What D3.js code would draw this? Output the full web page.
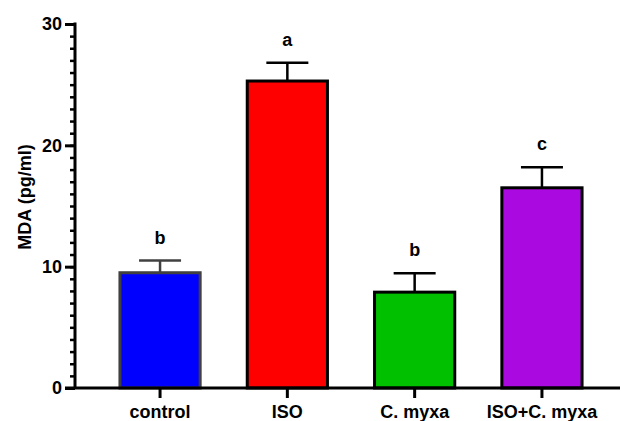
<!DOCTYPE html>
<html><head><meta charset="utf-8">
<script src="https://cdn.jsdelivr.net/npm/d3@7"></script>
<style>body{margin:0;background:#fff}svg{display:block}text{font-family:"Liberation Sans",Arial,sans-serif;font-weight:bold}</style>
</head><body><svg id="c" width="621" height="421"></svg>
<script>
const categories = ["control","ISO","C. myxa","ISO+C. myxa"];
const means = [9.5, 25.3, 7.9, 16.5];
const errors = [1.0, 1.5, 1.55, 1.7];
const letters = ["b","a","b","c"];
const fills = ["#0000ff","#ff0000","#00c000","#aa0ae0"];
const strokes = ["#404040","#000","#000","#000"];
const yMajor = [0,10,20,30];
const yMinor = d3.range(0,31,1);

const svg = d3.select("#c");
const y = d3.scaleLinear().domain([0,30]).range([388,24]);
const x = d3.scaleBand().domain(categories).range([96.4,605.6]).paddingInner(0.37).paddingOuter(0.185);

// bars
const g = svg.append("g");
g.selectAll("rect").data(categories).join("rect")
  .attr("x",d=>x(d)).attr("width",x.bandwidth())
  .attr("y",(d,i)=>y(means[i])).attr("height",(d,i)=>y(0)-y(means[i]))
  .attr("fill",(d,i)=>fills[i]).attr("stroke",(d,i)=>strokes[i]).attr("stroke-width",3);

// error bars
const cx = d=>x(d)+x.bandwidth()/2;
g.selectAll("line.ev").data(categories).join("line").attr("class","ev")
  .attr("x1",cx).attr("x2",cx)
  .attr("y1",(d,i)=>y(means[i])).attr("y2",(d,i)=>y(means[i]+errors[i]))
  .attr("stroke",(d,i)=>strokes[i]).attr("stroke-width",2.5);
g.selectAll("line.ec").data(categories).join("line").attr("class","ec")
  .attr("x1",d=>cx(d)-21).attr("x2",d=>cx(d)+21)
  .attr("y1",(d,i)=>y(means[i]+errors[i])).attr("y2",(d,i)=>y(means[i]+errors[i]))
  .attr("stroke",(d,i)=>strokes[i]).attr("stroke-width",2.5);
g.selectAll("text.sig").data(categories).join("text").attr("class","sig")
  .attr("x",cx).attr("y",(d,i)=>y(means[i]+errors[i])-17)
  .attr("text-anchor","middle").attr("font-size",18).attr("fill","#000")
  .text((d,i)=>letters[i]);

// y axis
const ya = svg.append("g").attr("transform","translate(75,0)");
ya.call(d3.axisLeft(y).tickValues(yMinor).tickSize(5).tickFormat(""));
ya.call(g2=>g2.selectAll(".tick line").attr("stroke","#000").attr("stroke-width",2.5));
ya.select(".domain").remove();
const ya2 = svg.append("g").attr("transform","translate(75,0)");
ya2.call(d3.axisLeft(y).tickValues(yMajor).tickSize(10).tickPadding(3).tickSizeOuter(0));
ya2.selectAll(".tick line").attr("stroke","#000").attr("stroke-width",3);
ya2.selectAll(".tick text").attr("font-size",18).attr("fill","#000").attr("font-family","Liberation Sans, Arial, sans-serif").attr("font-weight","bold");
ya2.select(".domain").remove();
svg.append("line").attr("x1",75).attr("x2",75).attr("y1",y(30)-1.5).attr("y2",y(0)).attr("stroke","#000").attr("stroke-width",3);

// x axis
const xa = svg.append("g").attr("transform","translate(0,388)");
xa.call(d3.axisBottom(x).tickSize(10).tickPadding(7).tickSizeOuter(0));
xa.select(".domain").remove();
xa.selectAll(".tick line").attr("stroke","#000").attr("stroke-width",3);
xa.selectAll(".tick text").attr("font-size",18).attr("fill","#000").attr("font-family","Liberation Sans, Arial, sans-serif").attr("font-weight","bold");
svg.append("line").attr("x1",65).attr("x2",620).attr("y1",388).attr("y2",388).attr("stroke","#000").attr("stroke-width",3);

// y label
svg.append("text").attr("transform","translate(31,197) rotate(-90)")
  .attr("text-anchor","middle").attr("font-size",18).attr("fill","#000").text("MDA (pg/ml)");
</script></body></html>
